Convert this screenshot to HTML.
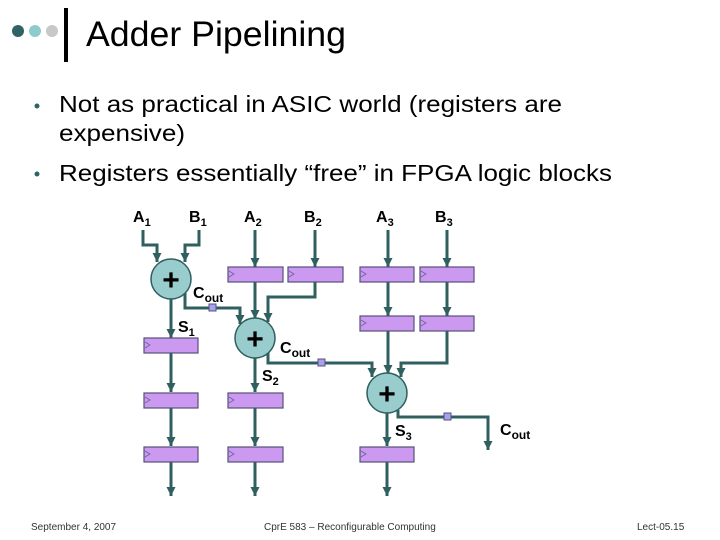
<!DOCTYPE html>
<html><head><meta charset="utf-8"><style>
html,body{margin:0;padding:0;background:#fff;width:720px;height:540px;overflow:hidden}
svg{display:block;font-family:"Liberation Sans",Arial,sans-serif}
</style></head><body>
<svg width="720" height="540" viewBox="0 0 720 540" xmlns="http://www.w3.org/2000/svg">
<defs>
<marker id="ar" markerWidth="8" markerHeight="8" refX="4" refY="6" orient="auto" markerUnits="userSpaceOnUse">
<path d="M0,0 L8,0 L4,8 Z" transform="rotate(-90 4 4)" fill="#2f5f5f"/>
</marker>
<marker id="a" viewBox="0 0 10 10" refX="10" refY="5" markerWidth="9" markerHeight="9" orient="auto" markerUnits="userSpaceOnUse"><path d="M0,0 L10,5 L0,10 Z" fill="#2f5f5f"/></marker>
</defs>
<!-- title -->
<circle cx="18" cy="31" r="6" fill="#2f6464"/>
<circle cx="35" cy="31" r="6" fill="#8ecccc"/>
<circle cx="52" cy="31" r="6" fill="#c8c8c8"/>
<rect x="64" y="8" width="4" height="54" fill="#000"/>
<text x="86" y="46" font-size="35" textLength="260" lengthAdjust="spacingAndGlyphs">Adder Pipelining</text>
<!-- bullets -->
<circle cx="37" cy="106" r="2.5" fill="#2f6464"/>
<circle cx="37" cy="174" r="2.5" fill="#2f6464"/>
<text x="59" y="112" font-size="23" textLength="503" lengthAdjust="spacingAndGlyphs">Not as practical in ASIC world (registers are</text>
<text x="59" y="141" font-size="23" textLength="126" lengthAdjust="spacingAndGlyphs">expensive)</text>
<text x="59" y="181" font-size="23" textLength="553" lengthAdjust="spacingAndGlyphs">Registers essentially “free” in FPGA logic blocks</text>

<g stroke="#2f5f5f" stroke-width="3" fill="none" marker-end="url(#a)">
<!-- stage1 -->
<path d="M143,230 V245 H157 V262"/>
<path d="M199,230 V245 H185 V262"/>
<path d="M255,230 V267"/>
<path d="M315,230 V267"/>
<path d="M388,230 V267"/>
<path d="M447,230 V267"/>
<!-- A3 B3 second regs -->
<path d="M388,282 V316"/>
<path d="M447,282 V316"/>
<!-- adder2 inputs -->
<path d="M255,282 V319"/>
<path d="M315,282 V297 H268 V322"/>
<path d="M185,293 V308 H240 V324"/>
<!-- adder3 inputs -->
<path d="M388,331 V374"/>
<path d="M447,331 V363 H401 V377"/>
<path d="M268,352 V363 H372 V377"/>
<!-- S columns -->
<path d="M171,299 V338"/>
<path d="M171,353 V392"/>
<path d="M171,408 V446"/>
<path d="M171,462 V496"/>
<path d="M255,358 V392"/>
<path d="M255,408 V446"/>
<path d="M255,462 V496"/>
<path d="M387,413 V446"/>
<path d="M387,462 V496"/>
<path d="M398,410 V417 H488 V450"/>
</g>
<!-- registers -->
<g fill="#cc99f0" stroke="#55507a" stroke-width="1.2">
<rect x="228" y="267" width="55" height="15"/>
<rect x="288" y="267" width="55" height="15"/>
<rect x="360" y="267" width="54" height="15"/>
<rect x="420" y="267" width="54" height="15"/>
<rect x="360" y="316" width="54" height="15"/>
<rect x="420" y="316" width="54" height="15"/>
<rect x="144" y="338" width="54" height="15"/>
<rect x="144" y="393" width="54" height="15"/>
<rect x="228" y="393" width="55" height="15"/>
<rect x="144" y="447" width="54" height="15"/>
<rect x="228" y="447" width="55" height="15"/>
<rect x="360" y="447" width="54" height="15"/>
</g>
<g fill="none" stroke="#6a60a0" stroke-width="0.8">
<path d="M229,271 l5,3 l-5,3"/><path d="M289,271 l5,3 l-5,3"/><path d="M361,271 l5,3 l-5,3"/><path d="M421,271 l5,3 l-5,3"/>
<path d="M361,320 l5,3 l-5,3"/><path d="M421,320 l5,3 l-5,3"/><path d="M145,342 l5,3 l-5,3"/>
<path d="M145,397 l5,3 l-5,3"/><path d="M229,397 l5,3 l-5,3"/><path d="M145,451 l5,3 l-5,3"/><path d="M229,451 l5,3 l-5,3"/><path d="M361,451 l5,3 l-5,3"/>
</g>
<!-- small squares -->
<g fill="#aaa0f0" stroke="#55507a" stroke-width="1">
<rect x="209" y="304" width="7" height="7"/>
<rect x="318" y="359" width="7" height="7"/>
<rect x="444" y="413" width="7" height="7"/>
</g>
<!-- adders -->
<g fill="#99cccc" stroke="#2f5f5f" stroke-width="1.5">
<circle cx="171" cy="279" r="20"/>
<circle cx="255" cy="338" r="20"/>
<circle cx="387" cy="393" r="20"/>
</g>
<g font-weight="bold" font-size="30" text-anchor="middle">
<text x="171" y="290">+</text><text x="255" y="349">+</text><text x="387" y="404">+</text>
</g>
<!-- labels -->
<g font-weight="bold" font-size="16">
<text x="133" y="222">A<tspan font-size="11" dy="4">1</tspan></text>
<text x="189" y="222">B<tspan font-size="11" dy="4">1</tspan></text>
<text x="244" y="222">A<tspan font-size="11" dy="4">2</tspan></text>
<text x="304" y="222">B<tspan font-size="11" dy="4">2</tspan></text>
<text x="376" y="222">A<tspan font-size="11" dy="4">3</tspan></text>
<text x="435" y="222">B<tspan font-size="11" dy="4">3</tspan></text>
<text x="193" y="298">C<tspan font-size="12" dy="4">out</tspan></text>
<text x="178" y="332">S<tspan font-size="11" dy="4">1</tspan></text>
<text x="280" y="353">C<tspan font-size="12" dy="4">out</tspan></text>
<text x="262" y="381">S<tspan font-size="11" dy="4">2</tspan></text>
<text x="395" y="436">S<tspan font-size="11" dy="4">3</tspan></text>
<text x="500" y="435">C<tspan font-size="12" dy="4">out</tspan></text>
</g>
<!-- footer -->
<g font-size="10" fill="#333">
<text x="31" y="530">September 4, 2007</text>
<text x="264" y="530">CprE 583 – Reconfigurable Computing</text>
<text x="637" y="530">Lect-05.15</text>
</g>
</svg>
</body></html>
